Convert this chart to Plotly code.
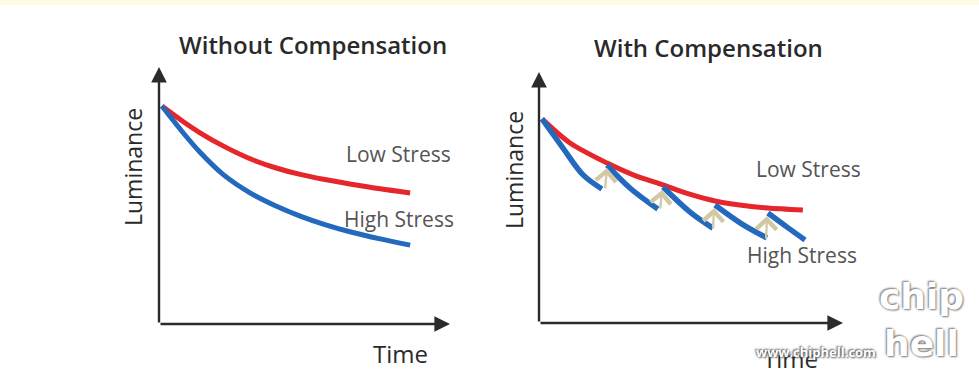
import plotly.graph_objects as go

W, H = 979, 387

# ---------- data (abstract units: time 0-100, luminance 0-100) ----------
left_time = [1.0, 8.0, 14.1, 22.0, 31.3, 40.0, 48.5, 57.0, 65.6, 76.0, 86.3]
left_low_stress = [84.8, 79.0, 74.4, 69.3, 64.3, 60.8, 58.2, 56.2, 54.5, 52.6, 51.0]
left_high_stress = [84.8, 74.8, 66.8, 58.2, 51.0, 46.0, 42.0, 38.7, 35.9, 33.1, 30.7]

right_low_time = [1.0, 10.2, 22.4, 31.0, 40.8, 49.0, 57.9, 66.0, 75.3, 86.8]
right_low_stress = [81.3, 71.7, 63.7, 59.0, 55.0, 51.5, 48.6, 47.0, 45.8, 45.0]

# compensated high-stress curve: sawtooth segments
seg_time = [
    [1.0, 7.9, 14.5, 20.7],
    [22.4, 29.9, 39.1],
    [40.8, 49.7, 57.2],
    [57.9, 66.8, 75.0],
    [75.3, 81.6, 87.5],
]
seg_lum = [
    [81.3, 69.7, 59.0, 53.4],
    [62.9, 53.8, 45.4],
    [54.2, 44.2, 37.8],
    [47.0, 39.4, 33.9],
    [43.8, 38.2, 33.1],
]
# compensation arrows (tail -> head)
comp_tail_t = [21.7, 39.8, 57.2, 74.7]
comp_tail_l = [53.0, 45.0, 37.0, 33.0]
comp_head_t = [22.4, 40.5, 57.6, 75.0]
comp_head_l = [61.8, 53.0, 45.8, 42.6]

RED = "#e5262b"
BLUE = "#2369bd"
TAN = "#d2c9a4"
AX = "#2b2b2b"
FONT = "Open Sans"

fig = go.Figure()

# left panel
fig.add_trace(go.Scatter(x=left_time, y=left_low_stress, mode="lines",
                         line=dict(color=RED, width=5, shape="spline", smoothing=0.8),
                         xaxis="x", yaxis="y", showlegend=False))
fig.add_trace(go.Scatter(x=left_time, y=left_high_stress, mode="lines",
                         line=dict(color=BLUE, width=5, shape="spline", smoothing=0.8),
                         xaxis="x", yaxis="y", showlegend=False))

# right panel
fig.add_trace(go.Scatter(x=right_low_time, y=right_low_stress, mode="lines",
                         line=dict(color=RED, width=5, shape="spline", smoothing=0.8),
                         xaxis="x2", yaxis="y2", showlegend=False))
for st, sl in zip(seg_time, seg_lum):
    fig.add_trace(go.Scatter(x=st, y=sl, mode="lines",
                             line=dict(color=BLUE, width=5.5, shape="spline"),
                             xaxis="x2", yaxis="y2", showlegend=False))

def px2fx(p):
    return p / W

def px2fy(p):
    return 1 - p / H

axis_common = dict(showgrid=False, zeroline=False, showticklabels=False,
                   showline=False, ticks="", fixedrange=True, range=[0, 100])

fig.update_layout(
    width=W, height=H,
    margin=dict(l=0, r=0, t=0, b=0),
    paper_bgcolor="white", plot_bgcolor="rgba(0,0,0,0)",
    xaxis=dict(domain=[px2fx(159), px2fx(450)], **axis_common),
    yaxis=dict(domain=[px2fy(324), px2fy(67)], **axis_common),
    xaxis2=dict(domain=[px2fx(539), px2fx(843)], anchor="y2", **axis_common),
    yaxis2=dict(domain=[px2fy(323), px2fy(72)], anchor="x2", **axis_common),
)

ann = []
# axis arrows
for xr, yr in (("x", "y"), ("x2", "y2")):
    ann.append(dict(x=100, y=0, ax=0, ay=0, xref=xr, yref=yr, axref=xr, ayref=yr,
                    showarrow=True, arrowhead=2, arrowsize=1.3, arrowwidth=2.4,
                    arrowcolor=AX, text=""))
    ann.append(dict(x=0, y=100, ax=0, ay=0, xref=xr, yref=yr, axref=xr, ayref=yr,
                    showarrow=True, arrowhead=2, arrowsize=1.3, arrowwidth=2.4,
                    arrowcolor=AX, text=""))

# compensation arrows
for tt, tl, ht, hl in zip(comp_tail_t, comp_tail_l, comp_head_t, comp_head_l):
    ann.append(dict(x=ht, y=hl, ax=tt, ay=tl, xref="x2", yref="y2", axref="x2", ayref="y2",
                    showarrow=True, arrowhead=4, arrowsize=1.7, arrowwidth=2.3,
                    arrowcolor=TAN, text=""))

def txt(x, y, s, size, color="#2a2a2a", angle=0, weight=None, family=FONT, shadow=None):
    f = dict(size=size, color=color, family=family)
    if weight:
        f["weight"] = weight
    if shadow:
        f["shadow"] = shadow
    return dict(x=px2fx(x), y=px2fy(y), xref="paper", yref="paper", text=s,
                showarrow=False, font=f, textangle=angle,
                xanchor="center", yanchor="middle")

ann += [
    txt(313, 45, "Without Compensation", 24, weight=600),
    txt(708, 47, "With Compensation", 24, weight=600),
    txt(133, 167, "Luminance", 23, angle=-90),
    txt(514, 170, "Luminance", 23, angle=-90),
    txt(400, 353, "Time", 24),
    txt(790, 358, "Time", 24),
    txt(398, 154, "Low Stress", 21, color="#555555"),
    txt(399, 219, "High Stress", 21, color="#555555"),
    txt(808, 169, "Low Stress", 21, color="#555555"),
    txt(802, 255, "High Stress", 21, color="#555555"),
    # watermark
    txt(816, 352, "www.chiphell.com", 13, color="white", weight=700,
        shadow="1px 1px 2px #555, -1px -1px 2px #555"),
    txt(921, 296, "chip", 36, color="white", weight=700, family="DejaVu Sans",
        shadow="1px 1px 2px #777, -1px -1px 2px #777"),
    txt(921, 343, "hell", 36, color="white", weight=700, family="DejaVu Sans",
        shadow="1px 1px 2px #777, -1px -1px 2px #777"),
]
fig.update_layout(annotations=ann)

# faint yellow band at the top
fig.add_shape(type="rect", xref="paper", yref="paper", x0=0, x1=1,
              y0=px2fy(5), y1=1, fillcolor="#fffae6", line=dict(width=0), layer="below")

fig.write_html("out.html", config={"displayModeBar": False},
               post_script="document.body.style.margin='0px';document.body.style.overflow='hidden';")
